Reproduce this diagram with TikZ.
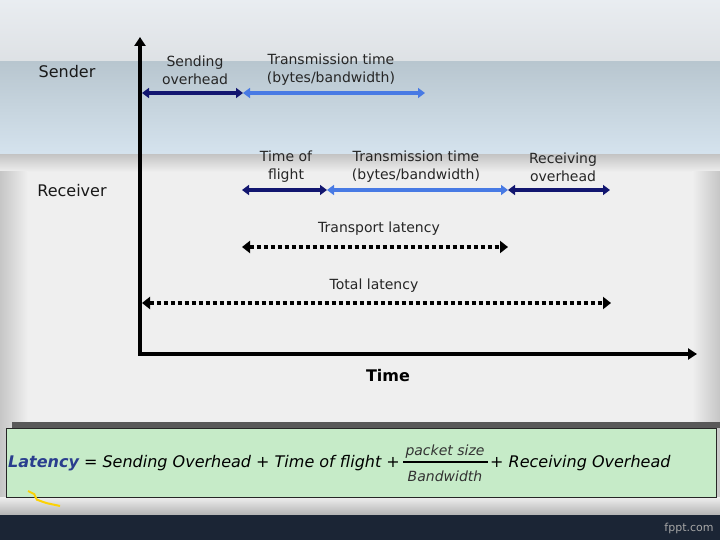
\documentclass[tikz,border=0pt]{standalone}
\usepackage{fontspec}
\setmainfont{DejaVu Sans}
\usetikzlibrary{arrows.meta, positioning}
\definecolor{navy}{RGB}{18,22,112}
\definecolor{skyblue}{RGB}{72,122,228}
\definecolor{slide}{RGB}{239,239,239}
\definecolor{topbg}{RGB}{232,236,240}
\definecolor{band}{RGB}{184,198,207}
\definecolor{bandlight}{RGB}{213,227,238}
\definecolor{mint}{RGB}{198,235,200}
\definecolor{latblue}{RGB}{42,62,142}
\definecolor{barbg}{RGB}{27,37,53}

\begin{document}
\begin{tikzpicture}[
  x=1pt, y=-1pt,
  >=Triangle,
  span/.style={
    line width=3.5pt,
    {Triangle[length=7pt,width=10pt]}-{Triangle[length=7pt,width=10pt]}
  },
  dotspan/.style={
    line width=4pt, dash pattern=on 4pt off 3pt,
    {Triangle[length=8pt,width=12pt]}-{Triangle[length=8pt,width=12pt]}
  },
  axis/.style={line width=3.5pt, -{Triangle[length=9pt,width=11pt]}},
  lbl/.style={font=\fontsize{14}{18}\selectfont, align=center, text=black!85},
  side/.style={font=\fontsize{16}{18}\selectfont, text=black!90},
  eqn/.style={font=\fontsize{16}{18}\selectfont\itshape, inner sep=0pt},
  fracpart/.style={font=\fontsize{14}{16}\selectfont\itshape, inner sep=0pt, text=black!80}
]
  % slide background
  \useasboundingbox (0,0) rectangle (720,540);
  \fill[slide] (0,0) rectangle (720,540);
  \shade[top color=topbg!95!white, bottom color=topbg!90!gray] (0,0) rectangle (720,62);
  \shade[top color=band, bottom color=bandlight] (0,62) rectangle (720,155);
  \shade[top color=gray!45, bottom color=slide] (0,155) rectangle (720,172);
  \shade[left color=gray!45, right color=slide] (0,172) rectangle (28,497);
  \shade[left color=slide, right color=gray!45] (692,172) rectangle (720,497);
  \shade[top color=slide, bottom color=gray!60] (0,497) rectangle (720,515);
  \fill[barbg] (0,515) rectangle (720,540);
  \node[text=gray!70, font=\fontsize{11}{13}\selectfont] (brand) at (689,528) {fppt.com};

  % axes
  \coordinate (origin) at (140,354);
  \coordinate (ytip) at (140,37);
  \coordinate (xtip) at (697,354);
  \draw[axis] (origin) -- (ytip);
  \draw[axis] ([xshift=-1.75pt]origin) -- (xtip);
  \node[font=\fontsize{16}{19}\selectfont\bfseries] (time) at (388,376) {Time};

  \node[side] (sender)   at (67,72)  {Sender};
  \node[side] (receiver) at (72,191) {Receiver};

  % sender side
  \coordinate (s0) at (142,93);
  \coordinate (s1) at (243,93);
  \coordinate (s2) at (425,93);
  \draw[span, navy] (s0) -- (s1);
  \draw[span, skyblue] (s1) -- (s2);
  \node[lbl] (sendov) at (195,70) {Sending\\overhead};
  \node[lbl] (sendtx) at (331,70) {Transmission time\\(bytes/bandwidth)};

  % receiver side
  \coordinate (r0) at (242,190);
  \coordinate (r1) at (327,190);
  \coordinate (r2) at (508,190);
  \coordinate (r3) at (610,190);
  \draw[span, navy] (r0) -- (r1);
  \draw[span, skyblue] (r1) -- (r2);
  \draw[span, navy] (r2) -- (r3);
  \node[lbl] (flight) at (286,167) {Time of\\flight};
  \node[lbl] (recvtx) at (416,167) {Transmission time\\(bytes/bandwidth)};
  \node[lbl] (recvov) at (563,167) {Receiving\\overhead};

  % latencies
  \coordinate (t0) at (242,247);
  \coordinate (t1) at (508,247);
  \draw[dotspan] (t0) -- (t1);
  \node[lbl] (transport) at (379,229) {Transport latency};
  \coordinate (a0) at (142,303);
  \coordinate (a1) at (611,303);
  \draw[dotspan] (a0) -- (a1);
  \node[lbl] (total) at (374,286) {Total latency};

  % formula box
  \fill[gray!70!black] (12,422) rectangle (720,428);
  \draw[fill=mint, draw=black!85, line width=0.8pt] (6,428) rectangle (716,497);
  \draw[yellow!70!orange, line width=2pt, rounded corners=2pt]
    (28,491) -- (36,495) -- (35,499) -- (46,503) -- (60,506);
  \node[eqn, anchor=base west] (lhs) at (8,467)
    {\textcolor{latblue}{\bfseries Latency} = Sending Overhead + Time of flight +};
  \node[fracpart, anchor=base] (num) at (445,455) {packet size};
  \node[fracpart, anchor=base] (den) at (445,481) {Bandwidth};
  \draw[line width=1.8pt] (403,462) -- (488,462);
  \node[eqn, anchor=base west] (rhs) at (490,467) {+ Receiving Overhead};
\end{tikzpicture}
\end{document}
